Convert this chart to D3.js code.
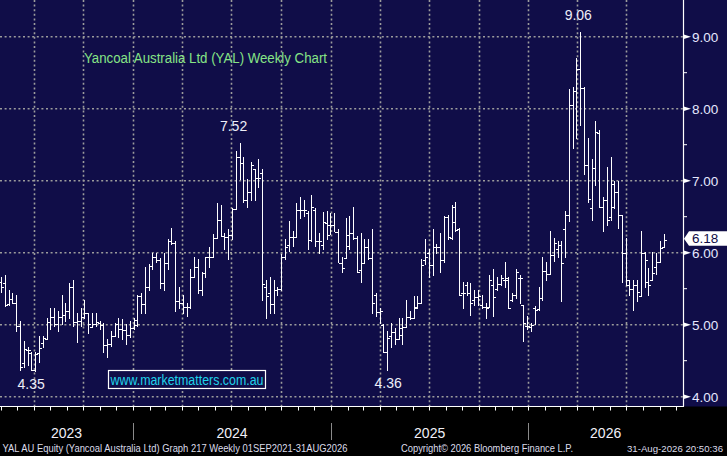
<!DOCTYPE html>
<html><head><meta charset="utf-8">
<script src="https://cdn.jsdelivr.net/npm/d3@7"></script>
<style>html,body{margin:0;padding:0;background:#000;overflow:hidden}svg{display:block}</style>
</head><body><svg id="c" width="727" height="456"></svg>
<script>
// ---- data (weekly OHLC) ----
const opens  = [5.59,5.58,5.29,5.36,5.30,4.98,4.47,4.65,4.61,4.37,4.61,4.75,4.80,5.04,5.11,5.01,5.11,5.14,5.19,5.52,5.04,5.05,5.11,5.16,4.97,5.01,5.02,5.00,4.72,4.73,4.84,5.01,4.94,4.93,4.86,4.95,
  5.00,5.40,5.29,5.52,5.82,5.94,5.90,5.58,5.86,6.16,6.13,5.33,5.30,5.24,5.25,5.66,5.80,5.48,5.72,5.94,5.94,6.20,6.45,6.23,6.22,6.25,6.61,7.33,7.25,6.73,6.84,7.16,7.04,7.11,
  5.52,5.44,5.29,5.48,5.50,5.94,6.11,6.22,6.22,6.59,6.59,6.55,6.18,6.60,6.16,6.11,6.41,6.38,6.38,6.29,5.86,5.93,6.25,6.27,6.20,5.76,5.86,6.08,5.93,5.41,5.18,5.00,4.62,4.85,4.90,4.80,
  4.86,4.97,5.11,5.09,5.25,5.30,5.90,5.99,5.83,6.08,6.08,5.90,6.50,6.20,6.43,6.33,5.44,5.55,5.44,5.34,5.39,5.27,5.25,5.25,5.55,5.50,5.57,5.62,5.62,5.34,5.41,5.65,5.27,4.98,4.97,
  5.23,5.22,5.37,5.75,5.71,5.97,6.05,6.11,6.33,6.52,8.05,8.24,8.55,8.29,7.22,6.62,7.18,7.66,6.63,6.73,6.50,6.95,6.84,6.52,5.99,5.55,5.50,5.55,5.40,6.00,5.60,5.62,5.80,5.87,6.08];
const highs  = [5.65,5.69,5.48,5.44,5.40,5.04,4.76,4.69,4.61,4.61,4.83,4.83,5.08,5.22,5.22,5.19,5.40,5.29,5.57,5.62,5.16,5.22,5.33,5.16,5.16,5.16,5.04,5.02,4.79,4.90,5.02,5.08,5.07,5.00,5.04,5.09,
  5.41,5.44,5.79,5.84,5.99,5.99,5.92,5.99,6.18,6.33,6.15,5.52,5.40,5.30,5.77,5.94,5.90,5.73,5.94,6.07,6.25,6.69,6.65,6.27,6.32,6.62,7.40,7.52,7.32,7.01,7.25,7.16,7.29,7.15,
  5.61,5.66,5.62,5.52,5.97,6.18,6.43,6.29,6.68,6.77,6.72,6.57,6.79,6.62,6.27,6.56,6.57,6.55,6.55,6.32,5.94,6.48,6.50,6.63,6.22,6.27,6.18,6.18,6.32,5.44,5.23,5.00,4.90,5.02,4.95,5.08,
  5.08,5.34,5.18,5.39,5.39,5.90,6.18,6.04,6.32,6.11,6.27,6.50,6.52,6.66,6.70,6.34,5.58,5.58,5.57,5.48,5.48,5.40,5.30,5.68,5.76,5.66,5.69,5.86,5.65,5.44,5.77,5.69,5.27,5.11,5.02,
  5.25,5.52,5.94,5.87,6.29,6.20,6.15,6.16,6.57,8.26,8.30,8.70,9.06,8.30,7.59,7.29,7.82,7.70,6.76,7.18,7.32,6.99,6.99,6.52,6.20,5.62,5.62,5.62,6.29,6.00,5.78,6.00,5.99,6.16,6.25];
const lows   = [5.45,5.25,5.27,5.30,4.91,4.37,4.41,4.43,4.36,4.35,4.47,4.69,4.80,4.93,4.98,4.91,5.00,5.04,5.09,4.97,4.75,4.97,5.09,4.88,4.97,4.97,4.94,4.61,4.55,4.70,4.83,4.82,4.79,4.72,4.82,4.93,
  4.97,5.16,5.16,5.48,5.76,5.87,5.50,5.47,5.76,6.11,5.18,5.23,5.16,5.11,5.23,5.65,5.44,5.41,5.66,5.80,5.94,6.20,6.22,6.04,5.91,6.18,6.61,7.01,6.70,6.63,6.73,6.72,6.91,5.34,
  5.09,5.16,5.16,5.41,5.48,5.90,6.01,6.08,6.22,6.48,6.50,6.04,6.16,6.08,5.99,6.04,6.18,6.25,6.29,5.86,5.73,5.93,6.04,6.18,5.72,5.59,5.86,5.90,5.16,5.11,5.02,4.61,4.36,4.69,4.72,4.80,
  4.72,4.97,5.07,5.09,5.23,5.30,5.83,5.66,5.69,5.99,5.73,5.87,6.18,6.18,6.29,5.41,5.23,5.41,5.13,5.27,5.27,5.23,5.08,5.25,5.11,5.48,5.55,5.52,5.23,5.32,5.37,5.30,4.76,4.93,4.90,
  5.00,5.20,5.34,5.61,5.70,5.88,5.93,5.32,5.93,6.43,7.45,7.59,7.77,7.08,6.70,6.45,6.94,6.63,6.29,6.38,6.45,6.62,6.34,5.58,5.55,5.40,5.20,5.32,5.40,5.52,5.40,5.62,5.70,5.87,6.08];
const closes = [5.52,5.27,5.36,5.30,4.98,4.41,4.66,4.65,4.37,4.59,4.68,4.82,5.04,5.11,5.01,5.11,5.14,5.19,5.52,5.04,5.05,5.11,5.16,5.01,5.01,5.04,5.00,4.72,4.73,4.84,5.01,4.94,4.93,4.86,4.95,5.07,
  5.40,5.29,5.52,5.82,5.94,5.90,5.58,5.86,6.16,6.13,5.33,5.30,5.24,5.25,5.66,5.80,5.48,5.72,5.94,5.94,6.20,6.45,6.23,6.22,6.25,6.61,7.33,7.25,6.73,6.84,7.22,7.04,7.04,5.57,
  5.40,5.29,5.48,5.50,5.94,6.08,6.22,6.22,6.59,6.59,6.59,6.18,6.63,6.16,6.16,6.43,6.25,6.38,6.29,5.86,5.79,6.10,6.27,6.20,5.73,5.86,6.08,5.93,5.30,5.18,5.19,4.62,4.82,4.90,4.80,4.95,
  4.97,5.11,5.09,5.23,5.30,5.83,5.94,5.83,6.08,6.08,5.90,6.50,6.22,6.63,6.32,5.41,5.44,5.44,5.30,5.39,5.40,5.25,5.23,5.62,5.39,5.57,5.65,5.65,5.23,5.41,5.73,5.65,5.02,4.98,5.00,
  5.20,5.37,5.75,5.71,5.97,6.13,6.11,5.86,6.52,8.05,8.24,8.55,8.29,7.22,6.75,7.18,7.68,6.63,6.73,6.46,6.63,6.84,6.52,5.99,5.62,5.50,5.55,5.45,6.00,5.90,5.55,5.72,5.87,6.06,6.18];
const firstWeek = new Date(2023, 4, 2);          // first weekly bar
const viewStart = new Date(2023, 3, 30);         // left edge of the plot
const viewEnd   = new Date(2026, 9, 14);         // right edge of the plot
const priceTicks = [4, 5, 6, 7, 8, 9];
const minorTicks = [4.5, 5.5, 6.5, 7.5, 8.5];
const lastPrice = 6.18;
const annotations = [
  {label: "7.52", index: 63, side: "high", dx: -6},
  {label: "9.06", index: 153, side: "high", dx: -2},
  {label: "4.35", index: 9, side: "low", dx: -4},
  {label: "4.36", index: 102, side: "low", dx: 1}
];
const title = "Yancoal Australia Ltd (YAL) Weekly Chart";
const watermark = "www.marketmatters.com.au";
const footerLeft = "YAL AU Equity (Yancoal Australia Ltd) Graph 217 Weekly 01SEP2021-31AUG2026";
const footerMid = "Copyright\u00A9 2026 Bloomberg Finance L.P.";
const footerRight = "31-Aug-2026 20:50:36";

// ---- build ----
const bars = opens.map((o, i) => ({
  date: d3.timeDay.offset(firstWeek, 7 * i), o, h: highs[i], l: lows[i], c: closes[i]
}));
const W = 727, H = 456, plotR = 683, plotB = 406.5;
const NAVY = "#100d48";
const svg = d3.select("#c");
const x = d3.scaleTime().domain([viewStart, viewEnd]).range([0, plotR]);
const y = d3.scaleLinear().domain([4, 9]).range([396.7, 36.7]);
const lastDate = bars[bars.length - 1].date;
const font = "'Liberation Sans', Arial, sans-serif";

svg.append("rect").attr("width", W).attr("height", H).attr("fill", "#000");
svg.append("rect").attr("width", W).attr("height", plotB).attr("fill", NAVY);

// grid
const grid = svg.append("g").attr("stroke", "#9c9c9c").attr("stroke-width", 1.6)
  .attr("stroke-dasharray", "2,2.6").attr("fill", "none");
grid.selectAll("line.h").data(priceTicks).join("line").attr("class", "h")
  .attr("x1", 0).attr("x2", plotR).attr("y1", d => y(d)).attr("y2", d => y(d));
const quarters = d3.timeMonth.every(3).range(viewStart, lastDate);
grid.selectAll("line.v").data(quarters).join("line").attr("class", "v")
  .attr("x1", d => Math.round(x(d)) + 0.5).attr("x2", d => Math.round(x(d)) + 0.5)
  .attr("y1", 0).attr("y2", plotB);

// OHLC bars
const px = d => Math.round(x(d)) + 0.5;
const bg = svg.append("g").attr("stroke", "#fff").attr("stroke-width", 1).attr("shape-rendering", "crispEdges");
bars.forEach(b => {
  const cx = px(b.date);
  bg.append("line").attr("x1", cx).attr("x2", cx).attr("y1", y(b.h) - 0.5).attr("y2", y(b.l) + 0.5);
  bg.append("line").attr("x1", cx - 2.5).attr("x2", cx).attr("y1", Math.round(y(b.o)) + 0.5).attr("y2", Math.round(y(b.o)) + 0.5);
  bg.append("line").attr("x1", cx).attr("x2", cx + 2.5).attr("y1", Math.round(y(b.c)) + 0.5).attr("y2", Math.round(y(b.c)) + 0.5);
});

// right axis
svg.append("line").attr("x1", plotR + 0.5).attr("x2", plotR + 0.5).attr("y1", 0).attr("y2", plotB)
  .attr("stroke", "#fff").attr("stroke-width", 1.2);
svg.selectAll("line.minor").data(minorTicks).join("line").attr("class", "minor")
  .attr("x1", plotR).attr("x2", plotR + 4).attr("y1", d => y(d)).attr("y2", d => y(d))
  .attr("stroke", "#fff").attr("stroke-width", 1);
svg.selectAll("path.maj").data(priceTicks).join("path").attr("class", "maj")
  .attr("d", d => `M${plotR},${y(d) - 2.5}L${plotR + 8},${y(d)}L${plotR},${y(d) + 2.5}Z`)
  .attr("fill", "#fff");
svg.selectAll("text.yl").data(priceTicks).join("text").attr("class", "yl")
  .attr("x", plotR + 9).attr("y", d => y(d)).attr("dy", "0.36em")
  .attr("font-family", font).attr("font-size", 13.5).attr("fill", "#e6e8ff")
  .text(d => d3.format(".2f")(d));

// last price tag
const ly = y(lastPrice);
svg.append("path")
  .attr("d", `M${plotR + 1},${ly - 1}L${plotR + 6},${ly - 8.5}L${W},${ly - 8.5}L${W},${ly + 6}L${plotR + 6},${ly + 6}Z`)
  .attr("fill", "#fff");
svg.append("text").attr("x", plotR + 9).attr("y", ly - 1.2).attr("dy", "0.36em")
  .attr("font-family", font).attr("font-size", 13.5).attr("fill", NAVY).text(d3.format(".2f")(lastPrice));

// bottom axis
svg.append("line").attr("x1", 0).attr("x2", plotR + 1).attr("y1", plotB).attr("y2", plotB)
  .attr("stroke", "#fff").attr("stroke-width", 1.2);
const months = d3.timeMonth.range(viewStart, viewEnd);
svg.selectAll("line.mt").data(months).join("line").attr("class", "mt")
  .attr("x1", d => px(d)).attr("x2", d => px(d)).attr("y1", plotB).attr("y2", plotB + 4)
  .attr("stroke", "#fff").attr("stroke-width", 1);
const years = d3.timeYear.range(viewStart, viewEnd);
svg.selectAll("line.ys").data(years).join("line").attr("class", "ys")
  .attr("x1", d => px(d)).attr("x2", d => px(d)).attr("y1", 423).attr("y2", 440)
  .attr("stroke", "#8a8a8a").attr("stroke-width", 1);
const bounds = [viewStart, ...years, viewEnd];
const segs = d3.pairs(bounds).map(([a, b]) => ({a, b}));
svg.selectAll("text.yr").data(segs).join("text").attr("class", "yr")
  .attr("x", d => (x(d.a) + x(d.b)) / 2).attr("y", 437.5).attr("text-anchor", "middle")
  .attr("font-family", font).attr("font-size", 14).attr("fill", "#f0f0f8")
  .text(d => d3.timeFormat("%Y")(d.a));

// title
svg.append("text").attr("x", 84).attr("y", 63).attr("font-family", font).attr("font-size", 14)
  .attr("fill", "#86e486").attr("textLength", 243).attr("lengthAdjust", "spacingAndGlyphs").text(title);

// annotations
svg.selectAll("text.ann").data(annotations).join("text").attr("class", "ann")
  .attr("x", d => x(bars[d.index].date) + d.dx)
  .attr("y", d => d.side === "high" ? y(highs[d.index]) - 12.5 : y(lows[d.index]) + 17.5)
  .attr("text-anchor", "middle").attr("font-family", font).attr("font-size", 14)
  .attr("fill", "#eeeef8").text(d => d.label);

// watermark
svg.append("rect").attr("x", 108.5).attr("y", 370.5).attr("width", 157).attr("height", 18)
  .attr("fill", NAVY).attr("stroke", "#fff").attr("stroke-width", 1.2);
svg.append("text").attr("x", 110.5).attr("y", 385).attr("font-family", font).attr("font-size", 14)
  .attr("fill", "#20d2ea").attr("textLength", 153).attr("lengthAdjust", "spacingAndGlyphs").text(watermark);

// footer
const ft = (t, xx, len, fs) => svg.append("text").attr("x", xx).attr("y", 451.5).attr("font-family", font)
  .attr("font-size", fs).attr("fill", "#dcdcea").attr("textLength", len)
  .attr("lengthAdjust", "spacingAndGlyphs").text(t);
ft(footerLeft, 2.5, 345, 10.5);
ft(footerMid, 401, 172, 10.5);
ft(footerRight, 627, 96, 9.4);
</script></body></html>
